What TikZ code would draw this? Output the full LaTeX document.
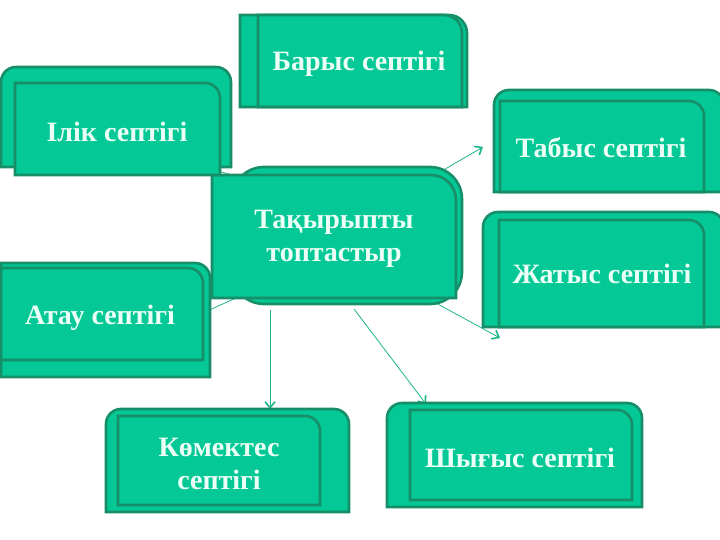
\documentclass[tikz,border=0pt]{standalone}
\usepackage{fontspec}
\setmainfont{Liberation Serif}
\usetikzlibrary{arrows.meta}
\definecolor{boxfill}{RGB}{4,200,150}
\definecolor{boxline}{RGB}{22,142,104}
\definecolor{txt}{RGB}{236,255,246}
\definecolor{conn}{RGB}{30,180,140}
\tikzset{
  boxsty/.style={fill=boxfill,draw=boxline,line width=2.6pt},
  lbl/.style={text=txt,font=\fontsize{28}{33}\selectfont\bfseries,align=center,inner sep=0pt},
  connsty/.style={draw=conn,line width=0.8pt},
  tipsty/.style={-{Straight Barb[length=6pt,width=10pt,line width=1.6pt]}}
}
% rounded top-right only: x1 y1 x2 y2 r
\newcommand\rTR[5]{\path[boxsty] (#1,#4) -- (#1,#2) -- ({#3-#5},#2) arc[start angle=-90,end angle=0,radius=#5] -- (#3,#4) -- cycle;}
% rounded top-left and top-right
\newcommand\rTT[5]{\path[boxsty] (#1,#4) -- (#1,{#2+#5}) arc[start angle=180,end angle=270,radius=#5] -- ({#3-#5},#2) arc[start angle=-90,end angle=0,radius=#5] -- (#3,#4) -- cycle;}
\begin{document}
\begin{tikzpicture}[x=1pt,y=-1pt]
\useasboundingbox (0,0) rectangle (720,540);
% connectors
\coordinate (s1) at (440,172); \coordinate (e1) at (483,147);
\coordinate (s2) at (434,302); \coordinate (e2) at (500,338);
\coordinate (s3) at (354,309); \coordinate (e3) at (426,404);
\coordinate (s4) at (270,310); \coordinate (e4) at (270,409);
\coordinate (s5) at (236,298); \coordinate (e5) at (205,312);
\coordinate (s6) at (242,178); \coordinate (e6) at (215,170);
\draw[connsty,tipsty] (s1) -- (e1);
\draw[connsty,tipsty] (s2) -- (e2);
\draw[connsty,tipsty] (s3) -- (e3);
\draw[connsty,tipsty] (s4) -- (e4);
\draw[connsty] (s5) -- (e5);
\draw[connsty] (s6) -- (e6);
% centre
\path[boxsty] (232,167) [rounded corners=32pt] rectangle (462,304);
\rTR{212}{175}{456}{298}{25}
\node[lbl] (c) at (334,239) {Тақырыпты\\топтастыр};
% Барыс
\rTR{240}{15}{467}{107}{18}
\rTR{258}{15}{462}{107}{18}
\node[lbl] (barys) at (359,64) {Барыс септігі};
% Ілік
\rTT{1}{67}{231}{167}{15}
\rTR{15}{83}{220}{175}{15}
\node[lbl] (ilik) at (117,132) {Ілік септігі};
% Табыс
\rTT{494}{90}{724}{192}{15}
\rTR{500}{101}{704}{192}{15}
\node[lbl] (tabys) at (601,148) {Табыс септігі};
% Жатыс
\rTT{483}{212}{724}{327}{15}
\rTR{499}{220}{704}{327}{15}
\node[lbl] (zhatys) at (602,274) {Жатыс септігі};
% Атау
\rTR{1}{263}{210}{377}{15}
\rTR{1}{268}{203}{360}{15}
\node[lbl] (atau) at (100,318) {Атау септігі};
% Көмектес
\rTT{106}{409}{349}{512}{15}
\rTR{118}{416}{320}{505}{15}
\node[lbl] (komektes) at (219,464) {Көмектес\\септігі};
% Шығыс
\rTT{387}{403}{642}{507}{15}
\rTR{410}{410}{632}{500}{15}
\node[lbl] (shygys) at (520,458) {Шығыс септігі};
\end{tikzpicture}
\end{document}
